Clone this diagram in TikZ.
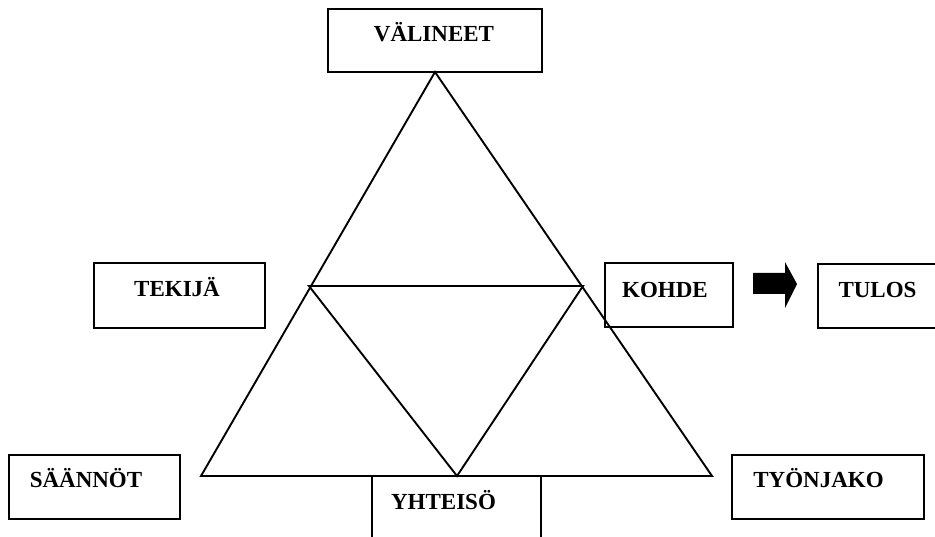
\documentclass[tikz,border=0pt]{standalone}
\usepackage{fontspec}
\setmainfont{Liberation Serif}
\begin{document}
\begin{tikzpicture}[x=1pt,y=-1pt,
  ln/.style={line width=1.9pt, line join=miter},
  box/.style={draw, line width=1.9pt},
  lbl/.style={anchor=base, inner sep=0pt, font=\fontsize{23}{23}\selectfont\bfseries}]
\clip (0,0) rectangle (935,537);
% boxes
\draw[box] (328,9) rectangle (542,72);
\coordinate (apex) at (435,72);
\draw[box] (94,263) rectangle (265,328);
\draw[box] (605,263) rectangle (733,327);
\draw[box] (818,264) rectangle (960,328);
\draw[box] (9,455) rectangle (180,519);
\draw[box] (372,476) rectangle (541,560);
\draw[box] (732,455) rectangle (924,519);
% triangle
\coordinate (bl) at (201,476);
\coordinate (br) at (712,476);
\coordinate (ml) at (309,286);
\coordinate (mr) at (583,286);
\coordinate (mb) at (457,476);
\draw[ln] (apex) -- (br) -- (bl) -- cycle;
\draw[ln] (ml) -- (mr) -- (mb) -- cycle;
% block arrow
\fill (753,273) -- (785,273) -- (785,262) -- (797,284) -- (785,308) -- (785,294) -- (753,294) -- cycle;
% labels
\node[lbl] (valineet) at (434,41.5) {VÄLINEET};
\node[lbl] (tekija) at (177,296.7) {TEKIJÄ};
\node[lbl] (kohde) at (665,298) {KOHDE};
\node[lbl] (tulos) at (877.5,298) {TULOS};
\node[lbl] (saannot) at (86,487) {SÄÄNNÖT};
\node[lbl] (yhteiso) at (443.5,509) {YHTEISÖ};
\node[lbl] (tyonjako) at (818.5,487) {TYÖNJAKO};
\end{tikzpicture}
\end{document}
